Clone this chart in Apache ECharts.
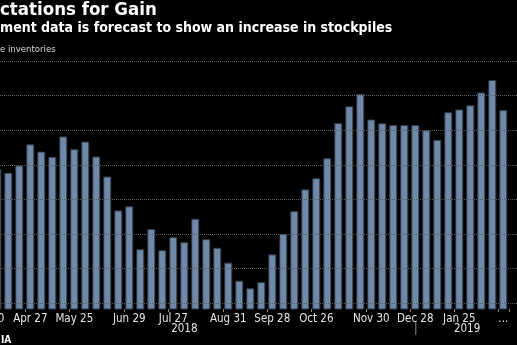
<!DOCTYPE html>
<html>
<head>
<meta charset="utf-8">
<script src="https://cdn.jsdelivr.net/npm/echarts@6/dist/echarts.min.js"></script>
<style>
  html, body { margin: 0; padding: 0; background: #000; }
  #chart { width: 517px; height: 345px; }
</style>
</head>
<body>
<div id="chart"></div>
<script>
// Weekly U.S. crude inventories, million barrels (week ending dates)
var categories = [
  'Mar 30', 'Apr 6', 'Apr 13', 'Apr 20', 'Apr 27', 'May 4', 'May 11', 'May 18', 'May 25',
  'Jun 1', 'Jun 8', 'Jun 15', 'Jun 22', 'Jun 29', 'Jul 6', 'Jul 13', 'Jul 20', 'Jul 27',
  'Aug 3', 'Aug 10', 'Aug 17', 'Aug 24', 'Aug 31', 'Sep 7', 'Sep 14', 'Sep 21', 'Sep 28',
  'Oct 5', 'Oct 12', 'Oct 19', 'Oct 26', 'Nov 2', 'Nov 9', 'Nov 16', 'Nov 23', 'Nov 30',
  'Dec 7', 'Dec 14', 'Dec 21', 'Dec 28', 'Jan 4', 'Jan 11', 'Jan 18', 'Jan 25',
  'Feb 1', 'Feb 8', 'Feb 15', 'Feb 22'
];

var inventories = [
  null, 428.7, 427.7, 429.8, 435.9, 433.8, 432.3, 438.2, 434.5,
  436.7, 432.4, 426.6, 416.8, 418.0, 405.6, 411.4, 405.3, 409.1,
  407.6, 414.4, 408.5, 406.0, 401.7, 396.5, 394.3, 396.1, 404.1,
  410.0, 416.6, 422.9, 426.1, 431.9, 442.1, 446.9, 450.5, 443.1,
  442.0, 441.5, 441.5, 441.5, 440.0, 437.2, 445.2, 446.0,
  447.2, 450.9, 454.5, 445.8
];

// Month-end dates that carry a label on the time axis
var tickLabels = ['Mar 30', 'Apr 27', 'May 25', 'Jun 29', 'Jul 27', 'Aug 31', 'Sep 28',
                  'Oct 26', 'Nov 30', 'Dec 28', 'Jan 25', 'Feb 22'];
var lastLabel = 'Feb 22';

// Horizontal reference levels
var gridLevels = [390, 400, 410, 420, 430, 440, 450, 460];

var years = ['2018', '2019'];
var yearAnchors = ['Aug 3', 'Dec 28'];

var titleText = 'ctations for Gain';
var subtitleText = 'ment data is forecast to show an increase in stockpiles';
var unitText = 'e inventories';
var sourceText = 'IA';

var chart = echarts.init(document.getElementById('chart'), null, { renderer: 'canvas' });

var font = '"DejaVu Sans Condensed", "DejaVu Sans", sans-serif';
var gridLeft = -19.2, gridRight = 8.2, gridTop = 52, gridBottom = 36;
var yMin = 388.3, yMax = 462.6;

var option = {
  backgroundColor: '#000',
  animation: false,
  grid: [
    { // bars
      left: gridLeft, right: gridRight, top: gridTop, bottom: gridBottom,
      containLabel: false, outerBoundsMode: 'none'
    },
    { // full-width reference lines
      left: 0, right: 0, top: gridTop, bottom: gridBottom,
      containLabel: false, outerBoundsMode: 'none'
    }
  ],
  xAxis: [
    {
      type: 'category',
      gridIndex: 0,
      data: categories,
      boundaryGap: true,
      axisLine: { show: false },
      axisTick: {
        show: true,
        length: 3,
        lineStyle: { color: '#8a8a8a', width: 1 }
      },
      axisLabel: {
        color: '#e6e6e6',
        fontFamily: font,
        fontSize: 11.5,
        margin: 4,
        hideOverlap: false,
        interval: function (idx, val) { return tickLabels.indexOf(val) >= 0; },
        formatter: function (val) { return val === lastLabel ? '...' : val; }
      }
    },
    {
      type: 'value', gridIndex: 1, min: 0, max: 1, show: false
    }
  ],
  yAxis: [
    {
      type: 'value', gridIndex: 0, min: yMin, max: yMax,
      axisLine: { show: false }, axisTick: { show: false },
      axisLabel: { show: false }, splitLine: { show: false }
    },
    {
      type: 'value', gridIndex: 1, min: yMin, max: yMax, show: false,
      splitLine: { show: false }
    }
  ],
  series: [
    {
      type: 'line',
      xAxisIndex: 1,
      yAxisIndex: 1,
      data: [],
      silent: true,
      z: 1,
      markLine: {
        silent: true,
        symbol: 'none',
        label: { show: false },
        lineStyle: { color: '#5c5c5c', type: 'dotted', width: 1 },
        data: gridLevels.map(function (v) { return { yAxis: v }; })
      }
    },
    {
      type: 'bar',
      xAxisIndex: 0,
      yAxisIndex: 0,
      data: inventories,
      barWidth: 8,
      itemStyle: {
        color: '#7189a8',
        borderColor: '#2e3a48',
        borderWidth: 1
      },
      z: 3
    }
  ],
  graphic: [
    { type: 'text', left: 0, top: 1,
      style: { text: titleText, fill: '#ffffff', font: 'bold 18.5px ' + font } },
    { type: 'text', left: 0, top: 21,
      style: { text: subtitleText, fill: '#ffffff', font: 'bold 14px ' + font } },
    { type: 'text', left: 0, top: 45,
      style: { text: unitText, fill: '#d8d8d8', font: '9.5px ' + font } },
    { type: 'text', left: 1, top: 335,
      style: { text: sourceText, fill: '#ffffff', font: 'bold 10px ' + font } }
  ]
};

chart.setOption(option);

// Year captions under the month labels, with a divider at the year change
var x2018 = chart.convertToPixel({ xAxisIndex: 0 }, yearAnchors[0]);
var xDiv = chart.convertToPixel({ xAxisIndex: 0 }, yearAnchors[1]);
var plotRight = 517 - gridRight;
var x2019 = xDiv + (plotRight - xDiv) / 2 + 5;

chart.setOption({
  graphic: option.graphic.concat([
    { type: 'text', x: x2018, y: 329,
      style: { text: years[0], fill: '#e6e6e6', font: '11.5px ' + font,
               align: 'center', verticalAlign: 'middle' } },
    { type: 'text', x: x2019, y: 329,
      style: { text: years[1], fill: '#e6e6e6', font: '11.5px ' + font,
               align: 'center', verticalAlign: 'middle' } },
    { type: 'line', shape: { x1: xDiv + 0.5, y1: 321, x2: xDiv + 0.5, y2: 335 },
      style: { stroke: '#8a8a8a', lineWidth: 1 } }
  ])
}, { replaceMerge: ['graphic'] });
</script>
</body>
</html>
